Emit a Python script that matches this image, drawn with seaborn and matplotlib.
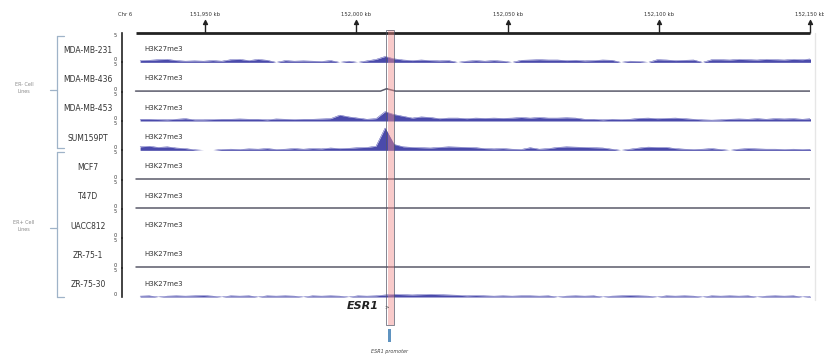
import numpy as np
import pandas as pd
import seaborn as sns
import matplotlib.pyplot as plt
import matplotlib.transforms as mtransforms
from matplotlib.patches import Rectangle
from matplotlib.lines import Line2D

# Tracks, top to bottom
cell_lines = ["MDA-MB-231", "MDA-MB-436", "MDA-MB-453", "SUM159PT",
              "MCF7", "T47D", "UACC812", "ZR-75-1", "ZR-75-30"]
mark = "H3K27me3"
groups = ["ER- Cell\nLines", "ER+ Cell\nLines"]
chrom = "Chr 6"
ruler_kb = [151950, 152000, 152050, 152100, 152150]
ruler_labels = ["151,950 kb", "152,000 kb", "152,050 kb", "152,100 kb", "152,150 kb"]
region_kb = [151927, 152150]
bin_size_kb = 3
promoter_kb = [152010.4, 152012.4]
esr1_kb = 152002

# H3K27me3 signal, 3 kb bins
sig_mda231 = [0.3, 0.35, 0.45, 0.5, 0.3, 0.2, 0.25, 0.2, 0.3, 0.2,
              0.45, 0.5, 0.3, 0.5, 0.35, 0, 0.3, 0.2, 0.25, 0.2,
              0.15, 0.3, 0, 0.2, 0, 0.25, 0.5, 1.0, 0.6, 0.4,
              0.3, 0.4, 0.3, 0.25, 0.3, 0, 0.2, 0.3, 0.2, 0.3,
              0.2, 0, 0.35, 0.4, 0.45, 0.4, 0.4, 0.3, 0.35, 0.25,
              0.3, 0.4, 0.35, 0, 0.2, 0.15, 0, 0.45, 0.4, 0.3,
              0.35, 0.4, 0, 0.45, 0.45, 0.4, 0.5, 0.45, 0.4, 0.5,
              0.45, 0.4, 0.5, 0.45, 0.6]
sig_mda453 = [0.3, 0.3, 0.25, 0.2, 0.3, 0.4, 0.2, 0.2, 0.25, 0.3,
              0.3, 0.35, 0.3, 0.3, 0.2, 0.35, 0.3, 0.25, 0.3, 0.3,
              0.35, 0.4, 1.0, 0.7, 0.5, 0.3, 0.4, 1.6, 1.1, 0.8,
              0.5, 0.7, 0.6, 0.4, 0.5, 0.5, 0.4, 0.5, 0.45, 0.5,
              0.45, 0.5, 0.6, 0.5, 0.6, 0.5, 0.5, 0.55, 0.5, 0.3,
              0.3, 0.2, 0.3, 0.25, 0.3, 0.45, 0.5, 0.4, 0.45, 0.5,
              0.4, 0.3, 0.2, 0.15, 0.2, 0.3, 0.35, 0.3, 0.4, 0.3,
              0.4, 0.35, 0.4, 0.3, 0.4]
sig_sum159 = [0.6, 0.7, 0.5, 0.6, 0.4, 0.3, 0.1, 0, 0, 0.15,
              0.2, 0.15, 0.25, 0.2, 0.3, 0.15, 0.2, 0.3, 0.2, 0.3,
              0.25, 0.4, 0.3, 0.35, 0.45, 0.5, 0.7, 3.8, 1.0, 0.6,
              0.5, 0.45, 0.4, 0.5, 0.6, 0.55, 0.5, 0.45, 0.3, 0.25,
              0.3, 0.2, 0.15, 0.45, 0.2, 0.3, 0.5, 0.6, 0.55, 0.5,
              0.45, 0.4, 0.2, 0, 0.2, 0.4, 0.55, 0.5, 0.5, 0.3,
              0.2, 0.15, 0.2, 0.3, 0.15, 0, 0.2, 0.3, 0.25, 0.2,
              0.2, 0.15, 0.2, 0.15, 0.2]
sig_zr7530 = [0.15, 0.2, 0, 0.15, 0.2, 0.15, 0.2, 0.25, 0.15, 0,
              0.2, 0.15, 0.2, 0, 0.2, 0.15, 0.2, 0.15, 0, 0.2,
              0.15, 0.2, 0.15, 0, 0.2, 0.15, 0.2, 0.35, 0.45, 0.4,
              0.35, 0.4, 0.45, 0.4, 0.35, 0.3, 0.2, 0.25, 0.2, 0.15,
              0.2, 0.15, 0.2, 0.2, 0.15, 0.2, 0, 0.15, 0.2, 0.15,
              0.2, 0, 0.15, 0.2, 0.25, 0.2, 0.15, 0, 0.2, 0.15,
              0.2, 0.15, 0, 0.2, 0.15, 0.2, 0.15, 0.2, 0, 0.15,
              0.2, 0.15, 0.2, 0, 0.15]

# near-empty tracks: only a faint flat line
flat_kb = [151927, 152150]
flat_val = [0.1, 0.1]
mda436_kb = [151927, 152008, 152010, 152013, 152150]
mda436_val = [0.1, 0.1, 0.5, 0.1, 0.1]

bins_kb = region_kb[0] + bin_size_kb * (np.arange(len(sig_mda231)) + 0.5)

tracks = {
    "MDA-MB-231": (bins_kb, sig_mda231, "signal"),
    "MDA-MB-436": (mda436_kb, mda436_val, "flat"),
    "MDA-MB-453": (bins_kb, sig_mda453, "signal"),
    "SUM159PT": (bins_kb, sig_sum159, "signal"),
    "MCF7": (flat_kb, flat_val, "flat"),
    "T47D": (flat_kb, flat_val, "flat"),
    "UACC812": (flat_kb, [0, 0], "empty"),
    "ZR-75-1": (flat_kb, flat_val, "flat"),
    "ZR-75-30": (bins_kb, sig_zr7530, "signal"),
}

sns.set_style("white")
plt.rcParams['font.family'] = ['DejaVu Sans']

W, H = 824, 360
fig, axes = plt.subplots(len(cell_lines), 1, sharex=True, figsize=(W / 100, H / 100), dpi=100)
fig.subplots_adjust(left=122 / W, right=810 / W, top=1 - 33 / H, bottom=1 - 297 / H, hspace=0)

xmin = 151950 - (205 - 122) * 50 / 151

for ax, name in zip(axes, cell_lines):
    kb, val, kind = tracks[name]
    df = pd.DataFrame({"kb": kb, "signal": val})
    if kind == "signal":
        ax.fill_between(df["kb"], 0, df["signal"], color="#2a2a9c", alpha=0.85, lw=0)
        sns.lineplot(data=df, x="kb", y="signal", ax=ax, color="#3a3aa8", lw=0.3)
    elif kind == "flat":
        sns.lineplot(data=df, x="kb", y="signal", ax=ax, color="#5a5a6a", lw=1.1)
    ax.set_xlim(xmin, region_kb[1])
    ax.set_ylim(0, 5)
    ax.set_yticks([0, 5])
    ax.set_yticklabels(["0", "5"], fontsize=3.5, color="#333333")
    ax.get_yticklabels()[0].set_va("bottom")
    ax.get_yticklabels()[1].set_va("top")
    ax.tick_params(axis="y", direction="inout", length=5, width=1.2, pad=1)
    ax.set_xticks([])
    ax.set_xlabel("")
    ax.set_ylabel("")
    for s in ["top", "right", "bottom"]:
        ax.spines[s].set_visible(False)
    ax.spines["left"].set_linewidth(1.2)
    ax.spines["left"].set_color("#222222")
    ax.patch.set_alpha(0)
    ax.text(0.033, 0.45, mark, transform=ax.transAxes, fontsize=5, color="#333333", va="center")
    ax.text(-0.049, 0.42, name, transform=ax.transAxes, fontsize=5.5, color="#333333",
            ha="center", va="center")

# genome ruler on top
rax = fig.add_axes([122 / W, 1 - 33 / H, 688 / W, 22 / H])
rax.set_xlim(xmin, region_kb[1])
rax.set_ylim(0, 1)
rax.axis("off")
rax.plot(region_kb, [0, 0], color="#222222", lw=2, clip_on=False, solid_capstyle="butt")
rax.vlines(ruler_kb, 0, 0.5, color="#222222", lw=1, clip_on=False)
rax.scatter(ruler_kb, [0.5] * len(ruler_kb), marker="^", s=8, color="#222222", clip_on=False)
for kb, lab in zip(ruler_kb, ruler_labels):
    rax.text(kb, 0.85, lab, fontsize=3.8, ha="center", va="center", color="#333333", clip_on=False)
rax.text(xmin + 1, 0.85, chrom, fontsize=3.8, ha="center", va="center", color="#333333")

# ESR1 promoter highlight across all tracks
bt = mtransforms.blended_transform_factory(axes[-1].transData, fig.transFigure)
fig.add_artist(Rectangle((promoter_kb[0], 1 - 325 / H), promoter_kb[1] - promoter_kb[0], (325 - 30) / H,
                         transform=bt, facecolor="#f08a8a", alpha=0.45, lw=0))
fig.add_artist(Rectangle((promoter_kb[0] - 0.6, 1 - 325 / H), promoter_kb[1] - promoter_kb[0] + 0.6,
                         (325 - 30) / H, transform=bt, facecolor="none", edgecolor="#555566", lw=0.5))
fig.text(esr1_kb, 1 - 306 / H, "ESR1", transform=bt, fontsize=8, fontweight="bold", fontstyle="italic",
         ha="center", va="center", color="#222222")
fig.text(promoter_kb[0] - 0.2, 1 - 307 / H, ">", transform=bt, fontsize=4, ha="center", va="center",
         color="#444444")
fig.add_artist(Rectangle((promoter_kb[0] + 0.1, 1 - 342 / H), 1.0, 13 / H, transform=bt,
                         facecolor="#5f93c0", lw=0))
fig.text(promoter_kb[0] + 0.6, 1 - 352 / H, "ESR1 promoter", transform=bt, fontsize=3.5,
         fontstyle="italic", ha="center", va="center", color="#444444")


def px(x, y):
    return x / W, 1 - y / H


def seg(p0, p1, color="#9fb3c8", lw=0.9):
    (x0, y0), (x1, y1) = px(*p0), px(*p1)
    fig.add_artist(Line2D([x0, x1], [y0, y1], transform=fig.transFigure, color=color, lw=lw))


# group brackets
for (top, bot, mid), lab in zip([(36, 148, 90), (152, 297, 228)], groups):
    seg((57, top), (57, bot))
    seg((57, top), (64, top))
    seg((57, bot), (64, bot))
    seg((57, mid), (50, mid))
    fig.text(*px(24, mid - 2), lab, fontsize=3.5, color="#8a8a8a", ha="center", va="center",
             linespacing=1.3)

# faint frame edge on the right
seg((815, 33), (815, 300), color="#e6e6e6", lw=1)

fig.savefig("out.png", dpi=100)
